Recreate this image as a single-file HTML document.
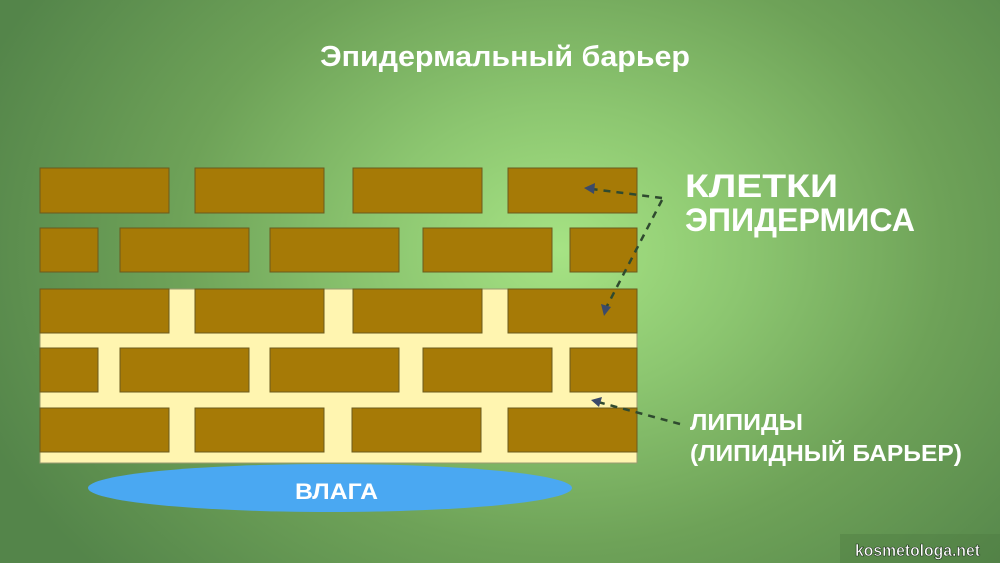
<!DOCTYPE html>
<html><head><meta charset="utf-8"><style>
html,body{margin:0;padding:0;width:1000px;height:563px;overflow:hidden}
body{background:radial-gradient(ellipse 620px 480px at 560px 250px,#a6e384 0%,#8cc670 30%,#6ea258 62%,#54854a 100%)}
text{font-family:"Liberation Sans","DejaVu Sans",sans-serif;fill:#fff}
</style></head><body>
<svg width="1000" height="563" viewBox="0 0 1000 563" xmlns="http://www.w3.org/2000/svg">
<g fill="#a67a06" stroke="#6b5a1e" stroke-width="1">
<rect x="40" y="168" width="129" height="45"/><rect x="195" y="168" width="129" height="45"/><rect x="353" y="168" width="129" height="45"/><rect x="508" y="168" width="129" height="45"/>
<rect x="40" y="228" width="58" height="44"/><rect x="120" y="228" width="129" height="44"/><rect x="270" y="228" width="129" height="44"/><rect x="423" y="228" width="129" height="44"/><rect x="570" y="228" width="67" height="44"/>
</g>
<ellipse cx="330" cy="488" rx="242" ry="24" fill="#4aa8f2"/>
<rect x="40" y="289" width="597" height="174" fill="#fff5b0" stroke="#9a9a70" stroke-width="1"/>
<g fill="#a67a06" stroke="#6b5a1e" stroke-width="1">
<rect x="40" y="289" width="129" height="44"/><rect x="195" y="289" width="129" height="44"/><rect x="353" y="289" width="129" height="44"/><rect x="508" y="289" width="129" height="44"/>
<rect x="40" y="348" width="58" height="44"/><rect x="120" y="348" width="129" height="44"/><rect x="270" y="348" width="129" height="44"/><rect x="423" y="348" width="129" height="44"/><rect x="570" y="348" width="67" height="44"/>
<rect x="40" y="408" width="129" height="44"/><rect x="195" y="408" width="129" height="44"/><rect x="352" y="408" width="129" height="44"/><rect x="508" y="408" width="129" height="44"/>
</g>
<g stroke="#2f4a2f" stroke-width="2.5" stroke-dasharray="7,6" fill="none">
<path d="M662 198 L592 189"/><path d="M662 200 L606 308"/><path d="M680 424 L598 402"/>
</g>
<g fill="#3b4a6a">
<path d="M584 188 L595 183 L594 194Z"/><path d="M604 316 L601 304 L611 307Z"/><path d="M591 400 L602 397 L599 407Z"/>
</g>
<g font-weight="bold">
<text x="320" y="66" font-size="29" textLength="370" lengthAdjust="spacingAndGlyphs">Эпидермальный барьер</text>
<text x="685" y="197" font-size="32" textLength="153" lengthAdjust="spacingAndGlyphs">КЛЕТКИ</text>
<text x="685" y="231" font-size="32" textLength="230" lengthAdjust="spacingAndGlyphs">ЭПИДЕРМИСА</text>
<text x="690" y="430" font-size="23" textLength="113" lengthAdjust="spacingAndGlyphs">ЛИПИДЫ</text>
<text x="690" y="461" font-size="23" textLength="272" lengthAdjust="spacingAndGlyphs">(ЛИПИДНЫЙ БАРЬЕР)</text>
<text x="295" y="499" font-size="22" textLength="83" lengthAdjust="spacingAndGlyphs">ВЛАГА</text>
</g>
<rect x="840" y="534" width="160" height="29" fill="#4d7a40" opacity="0.4"/>
<text x="855" y="556" font-size="17" font-weight="bold" textLength="125" lengthAdjust="spacingAndGlyphs" stroke="#1a2a1a" stroke-width="0.6">kosmetologa.net</text>
</svg>
</body></html>
